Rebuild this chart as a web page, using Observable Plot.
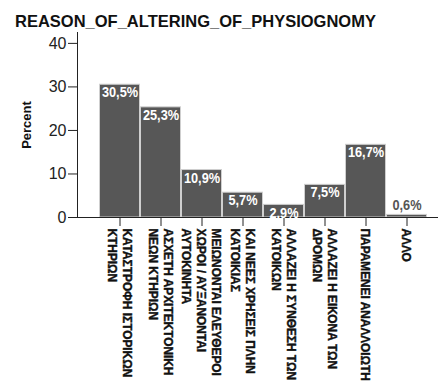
<!DOCTYPE html>
<html><head><meta charset="utf-8">
<script src="https://cdn.jsdelivr.net/npm/d3@7"></script>
<script src="https://cdn.jsdelivr.net/npm/@observablehq/plot@0.6"></script>
<style>
body{margin:0;background:#fff;}
#title{height:32px;box-sizing:border-box;padding-top:12px;padding-left:15px;line-height:17px;font:bold 16.5px "Liberation Sans",Arial,sans-serif;color:#111;white-space:nowrap;}
#chart svg{display:block;}
</style></head><body>
<div id="title">REASON_OF_ALTERING_OF_PHYSIOGNOMY</div>
<div id="chart"></div>
<script>
const categories = [
  "ΚΑΤΑΣΤΡΟΦΗ ΙΣΤΟΡΙΚΩΝ\nΚΤΗΡΙΩΝ",
  "ΑΣΧΕΤΗ ΑΡΧΙΤΕΚΤΟΝΙΚΗ\nΝΕΩΝ ΚΤΗΡΙΩΝ",
  "ΜΕΙΩΝΟΝΤΑΙ ΕΛΕΥΘΕΡΟΙ\nΧΩΡΟΙ / ΑΥΞΑΝΟΝΤΑΙ\nΑΥΤΟΚΙΝΗΤΑ",
  "ΚΑΙ ΝΕΕΣ ΧΡΗΣΕΙΣ ΠΛΗΝ\nΚΑΤΟΙΚΙΑΣ",
  "ΑΛΛΑΖΕΙ Η ΣΥΝΘΕΣΗ ΤΩΝ\nΚΑΤΟΙΚΩΝ",
  "ΑΛΛΑΖΕΙ Η ΕΙΚΟΝΑ ΤΩΝ\nΔΡΟΜΩΝ",
  "ΠΑΡΑΜΕΝΕΙ ΑΝΑΛΛΟΙΩΤΗ",
  "ΑΛΛΟ"
];
const percents = [30.5, 25.3, 10.9, 5.7, 2.9, 7.5, 16.7, 0.6];
const yTicks = [0, 10, 20, 30, 40];
const yLabel = "Percent";

const data = categories.map((c, i) => ({cat: c, pct: percents[i], label: percents[i].toFixed(1).replace(".", ",") + "%"}));
const sans = '"Liberation Sans",Arial,sans-serif';

const chart = Plot.plot({
  width: 438,
  height: 353,
  marginTop: 0,
  marginBottom: 168,
  marginLeft: 77,
  marginRight: 0,
  style: {fontFamily: sans, background: "#fff", color: "#111"},
  x: {domain: categories, padding: 0, paddingOuter: 0.34, align: 0.67, axis: null},
  y: {domain: [0, 42.5], axis: null},
  marks: [
    Plot.barY(data, {x: "cat", y: "pct", fill: "#575757", stroke: "#cfcfcf", strokeWidth: 1, insetLeft: 0.5, insetRight: 0.5}),
    Plot.frame({anchor: "left", stroke: "#222"}),
    Plot.frame({anchor: "bottom", stroke: "#222"}),
    Plot.axisY({ticks: yTicks, tickSize: 9, tickPadding: 2, fontSize: 16, label: null, stroke: "#222", fill: "#222"}),
    Plot.axisX({tickSize: 9, tickFormat: () => "", label: null, stroke: "#222"}),
    Plot.text(categories, {x: d => d, frameAnchor: "bottom", rotate: 90, textAnchor: "start", lineAnchor: "middle", dy: 11, fontSize: 13.5, fontWeight: "bold", lineHeight: 1.11, fill: "#111", stroke: "#111", strokeWidth: 0.4, className: "narrowtxt"}),
    Plot.text(data.filter(d => d.pct >= 1), {x: "cat", y: "pct", text: "label", dy: 8, lineAnchor: "middle", fill: "white", fontSize: 14.5, fontWeight: "bold", className: "narrowtxt2"}),
    Plot.text(data.filter(d => d.pct < 1), {x: "cat", y: "pct", text: "label", dy: -10, lineAnchor: "middle", fill: "#555", fontSize: 14.5, fontWeight: "bold", className: "narrowtxt2"}),
    Plot.text([yLabel], {frameAnchor: "left", rotate: -90, dx: -51, textAnchor: "middle", fontSize: 13, fontWeight: "bold", fill: "#111"})
  ]
});
// condense glyphs horizontally (text-direction) to mimic a narrow bold face
d3.select(chart).selectAll(".narrowtxt text").attr("transform", function() {
  return (this.getAttribute("transform") || "") + " scale(0.88,1)";
});
d3.select(chart).selectAll(".narrowtxt2 text").attr("transform", function() {
  return (this.getAttribute("transform") || "") + " scale(0.88,1)";
});
document.getElementById("chart").appendChild(chart);
</script>
</body></html>
